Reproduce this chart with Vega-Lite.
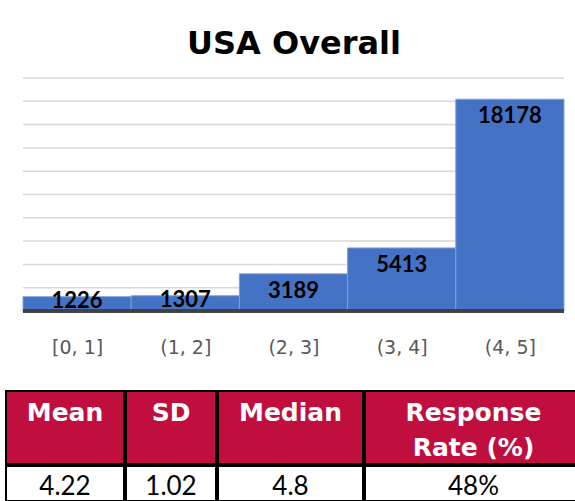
{
  "$schema": "https://vega.github.io/schema/vega-lite/v6.json",
  "background": "white",
  "padding": {"left": 5, "top": 28, "right": 0, "bottom": 0},
  "config": {"view": {"stroke": null}, "font": "DejaVu Sans"},
  "datasets": {
    "bins": [
      {"bin": "[0, 1]", "lo": 0, "hi": 1, "count": 1226},
      {"bin": "(1, 2]", "lo": 1, "hi": 2, "count": 1307},
      {"bin": "(2, 3]", "lo": 2, "hi": 3, "count": 3189},
      {"bin": "(3, 4]", "lo": 3, "hi": 4, "count": 5413},
      {"bin": "(4, 5]", "lo": 4, "hi": 5, "count": 18178}
    ],
    "grid": [
      {"v": 2000}, {"v": 4000}, {"v": 6000}, {"v": 8000}, {"v": 10000},
      {"v": 12000}, {"v": 14000}, {"v": 16000}, {"v": 18000}, {"v": 20000}
    ],
    "stats": [
      {"col": 1, "stat": "Mean", "value": "4.22"},
      {"col": 2, "stat": "SD", "value": "1.02"},
      {"col": 3, "stat": "Median", "value": "4.8"},
      {"col": 4, "stat": "Response\nRate (%)", "value": "48%"}
    ]
  },
  "spacing": 33,
  "vconcat": [
    {
      "width": 570,
      "height": 233,
      "title": {"text": "USA Overall", "font": "DejaVu Sans", "fontSize": 32, "fontWeight": "bold", "color": "black", "offset": 16, "anchor": "middle", "dx": 3},
      "encoding": {
        "x": {"type": "quantitative",
          "scale": {"domain": [-0.1571, 5.111], "nice": false, "zero": false},
          "axis": {"title": null, "values": [0.5, 1.5, 2.5, 3.5, 4.5], "labelExpr": "['[0, 1]', '(1, 2]', '(2, 3]', '(3, 4]', '(4, 5]'][floor(datum.value)]", "labelFont": "DejaVu Sans", "labelFontSize": 19, "labelColor": "#595959", "labelPadding": 27, "ticks": false, "domain": false, "grid": false, "labelFlush": false, "labelOverlap": false}},
        "y": {"type": "quantitative",
          "scale": {"domain": [0, 20000], "nice": false},
          "axis": null}
      },
      "layer": [
        {"data": {"name": "grid"},
         "mark": {"type": "rule", "color": "#d9d9d9", "strokeWidth": 1.5},
         "encoding": {"x": {"datum": 0}, "x2": {"datum": 5}, "y": {"field": "v"}}},
        {"data": {"name": "bins"},
         "mark": {"type": "rect", "color": "#4472C4", "stroke": "#7f9fd6", "strokeWidth": 1},
         "encoding": {"x": {"field": "lo"}, "x2": {"field": "hi"}, "y": {"field": "count"}, "y2": {"datum": 0}}},
        {"data": {"name": "bins"},
         "mark": {"type": "rule", "color": "#404040", "strokeWidth": 3},
         "encoding": {"x": {"datum": 0}, "x2": {"datum": 5}, "y": {"datum": 0}}},
        {"data": {"name": "bins"},
         "transform": [{"calculate": "(datum.lo + datum.hi) / 2", "as": "mid"}, {"filter": "datum.count >= 2000"}],
         "mark": {"type": "text", "font": "Lato", "fontSize": 22, "fontWeight": "bold", "color": "black", "baseline": "middle", "dy": 17},
         "encoding": {"x": {"field": "mid"}, "y": {"field": "count"}, "text": {"field": "count", "type": "quantitative", "format": "d"}}},
        {"data": {"name": "bins"},
         "transform": [{"calculate": "(datum.lo + datum.hi) / 2", "as": "mid"}, {"filter": "datum.count < 2000"}],
         "mark": {"type": "text", "font": "Lato", "fontSize": 22, "fontWeight": "bold", "color": "black", "baseline": "middle", "dy": 4},
         "encoding": {"x": {"field": "mid"}, "y": {"field": "count"}, "text": {"field": "count", "type": "quantitative", "format": "d"}}}
      ]
    },
    {
      "spacing": 0,
      "vconcat": [
        {
          "spacing": 0,
          "hconcat": [
            {"width": 118, "height": 73, "data": {"name": "stats"}, "transform": [{"filter": "datum.col == 1"}],
             "view": {"fill": "#C00F3E", "stroke": "black", "strokeWidth": 2},
             "mark": {"type": "text", "font": "DejaVu Sans", "fontSize": 25, "fontWeight": "bold", "color": "white", "baseline": "alphabetic", "dy": -6.5, "lineBreak": "\n", "lineHeight": 35},
             "encoding": {"text": {"field": "stat"}}},
            {"width": 90, "height": 73, "data": {"name": "stats"}, "transform": [{"filter": "datum.col == 2"}],
             "view": {"fill": "#C00F3E", "stroke": "black", "strokeWidth": 2},
             "mark": {"type": "text", "font": "DejaVu Sans", "fontSize": 25, "fontWeight": "bold", "color": "white", "baseline": "alphabetic", "dy": -6.5, "lineBreak": "\n", "lineHeight": 35},
             "encoding": {"text": {"field": "stat"}}},
            {"width": 145, "height": 73, "data": {"name": "stats"}, "transform": [{"filter": "datum.col == 3"}],
             "view": {"fill": "#C00F3E", "stroke": "black", "strokeWidth": 2},
             "mark": {"type": "text", "font": "DejaVu Sans", "fontSize": 25, "fontWeight": "bold", "color": "white", "baseline": "alphabetic", "dy": -6.5, "lineBreak": "\n", "lineHeight": 35},
             "encoding": {"text": {"field": "stat"}}},
            {"width": 217, "height": 73, "data": {"name": "stats"}, "transform": [{"filter": "datum.col == 4"}],
             "view": {"fill": "#C00F3E", "stroke": "black", "strokeWidth": 2},
             "mark": {"type": "text", "font": "DejaVu Sans", "fontSize": 25, "fontWeight": "bold", "color": "white", "baseline": "alphabetic", "dy": -6.5, "lineBreak": "\n", "lineHeight": 35},
             "encoding": {"text": {"field": "stat"}}}
          ]
        },
        {
          "spacing": 0,
          "hconcat": [
            {"width": 118, "height": 35, "data": {"name": "stats"}, "transform": [{"filter": "datum.col == 1"}],
             "view": {"fill": "white", "stroke": "black", "strokeWidth": 2},
             "mark": {"type": "text", "font": "Lato", "fontSize": 26, "color": "black", "baseline": "middle", "dy": 3},
             "encoding": {"text": {"field": "value"}}},
            {"width": 90, "height": 35, "data": {"name": "stats"}, "transform": [{"filter": "datum.col == 2"}],
             "view": {"fill": "white", "stroke": "black", "strokeWidth": 2},
             "mark": {"type": "text", "font": "Lato", "fontSize": 26, "color": "black", "baseline": "middle", "dy": 3},
             "encoding": {"text": {"field": "value"}}},
            {"width": 145, "height": 35, "data": {"name": "stats"}, "transform": [{"filter": "datum.col == 3"}],
             "view": {"fill": "white", "stroke": "black", "strokeWidth": 2},
             "mark": {"type": "text", "font": "Lato", "fontSize": 26, "color": "black", "baseline": "middle", "dy": 3},
             "encoding": {"text": {"field": "value"}}},
            {"width": 217, "height": 35, "data": {"name": "stats"}, "transform": [{"filter": "datum.col == 4"}],
             "view": {"fill": "white", "stroke": "black", "strokeWidth": 2},
             "mark": {"type": "text", "font": "Lato", "fontSize": 26, "color": "black", "baseline": "middle", "dy": 3},
             "encoding": {"text": {"field": "value"}}}
          ]
        }
      ]
    }
  ]
}
